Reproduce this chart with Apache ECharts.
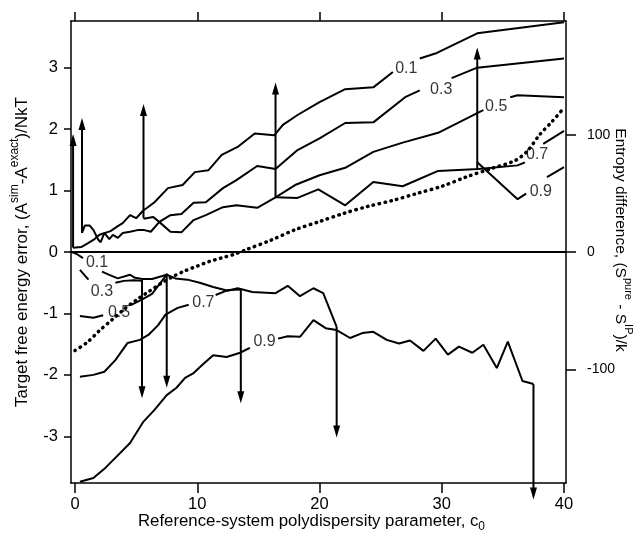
<!DOCTYPE html>
<html>
<head>
<meta charset="utf-8">
<script src="https://cdn.jsdelivr.net/npm/echarts@6/dist/echarts.min.js"></script>
<style>
  html, body { margin: 0; padding: 0; background: #fff; }
  #chart { width: 639px; height: 537px; }
</style>
</head>
<body>
<div id="chart"></div>
<script>
// free energy error curves, upper set (left axis); null = gap for the label
var upper01 = [[-0.16,0.07],[0.5,0.08],[1.1,0.15],[1.6,0.21],[2.0,0.28],[2.9,0.34],[3.5,0.42],[3.9,0.47],[4.5,0.6],[5.0,0.55],[5.6,0.68],[5.9,0.72],[6.5,0.81],[7.6,1.04],[8.8,1.09],[9.8,1.30],[10.9,1.33],[12.0,1.58],[13.3,1.71],[14.7,1.93],[16.3,1.90],[17.0,2.07],[18.2,2.23],[20.0,2.44],[22.1,2.65],[24.4,2.68],[26.0,2.93],null,[28.2,3.15],[29.6,3.24],[32.9,3.56],[40,3.74]];
var upper03 = [[0.57,0.31],[0.8,0.43],[1.2,0.43],[1.5,0.36],[1.9,0.2],[2.1,0.16],[2.4,0.31],[2.8,0.21],[3.1,0.28],[3.5,0.23],[3.9,0.31],[4.5,0.33],[5.2,0.36],[5.6,0.36],[6.2,0.33],[6.9,0.49],[7.8,0.6],[8.7,0.62],[9.7,0.8],[10.7,0.81],[12.1,1.04],[13.2,1.17],[14.9,1.40],[16.4,1.35],[18.2,1.66],[20.0,1.85],[22.1,2.10],[24.4,2.11],[27.0,2.52],[28.2,2.63],null,[30.8,2.83],[32.9,3.0],[40,3.15]];
var upper05 = [[5.6,0.54],[6.4,0.57],[7.0,0.47],[7.8,0.33],[8.7,0.32],[9.7,0.52],[10.7,0.6],[12.1,0.73],[13.2,0.76],[14.9,0.72],[16.4,0.89],[18.0,1.09],[20.0,1.25],[22.1,1.37],[24.4,1.63],[26.8,1.78],[29.7,1.94],[32.9,2.26],[33.4,2.31],null,[35.6,2.52],[36.2,2.55],[40,2.52]];
var upper07 = [[16.4,0.89],[18.2,0.88],[19.9,1.02],[22.1,0.76],[24.4,1.14],[26.8,1.07],[29.7,1.32],[33.0,1.35],[36.2,1.41],[36.8,1.46],null,[38.3,1.76],[40,1.97]];
var upper09 = [[32.9,1.46],[36.2,0.86],[36.9,0.95],null,[38.6,1.22],[40,1.38]];

// lower set (left axis)
var lower01 = [[-0.25,0.0],[0.2,-0.04],[0.65,-0.1],null,[2.2,-0.32],[2.9,-0.38],[3.5,-0.43],[4.5,-0.37],[4.9,-0.42],[5.5,-0.44],[6.3,-0.44],[7.5,-0.37],[8.2,-0.43],[9.2,-0.45],[10.2,-0.5],[11.3,-0.57],[12.5,-0.63],[13.3,-0.59],[14.5,-0.65],[16.4,-0.67],[17.4,-0.55],[18.4,-0.72],[19.5,-0.59],[20.3,-0.67],[21.4,-1.22]];
var lower03 = [[0.4,-0.29],[1.1,-0.45],null,[3.3,-0.5],[4.0,-0.47],[4.8,-0.46],[5.5,-0.47]];
var lower05 = [[0.4,-1.04],[1.5,-1.07],[2.3,-1.03],null,[4.6,-0.86],[5.5,-0.77],[6.3,-0.68],[7.5,-0.37]];
var lower07 = [[0.4,-2.03],[1.5,-2.0],[2.4,-1.95],[3.3,-1.76],[4.3,-1.48],[5.3,-1.43],[6.0,-1.35],[6.8,-1.19],[7.4,-1.02],[8.4,-0.91],[9.3,-0.86],null,[11.5,-0.7],[12.5,-0.62],[13.6,-0.61]];
var lower09 = [[0.4,-3.74],[1.5,-3.68],[2.5,-3.51],[3.4,-3.33],[4.5,-3.11],[5.6,-2.76],[6.5,-2.57],[7.5,-2.33],[8.3,-2.21],[9.0,-2.05],[9.7,-1.97],[10.4,-1.84],[11.3,-1.68],[12.4,-1.71],[13.5,-1.64],[14.3,-1.56],null,[16.6,-1.41],[17.4,-1.37],[18.4,-1.38],[19.5,-1.11],[20.5,-1.24],[21.4,-1.27],[22.5,-1.4],[23.5,-1.32],[24.4,-1.30],[25.5,-1.43],[26.5,-1.49],[27.4,-1.44],[28.5,-1.61],[29.5,-1.41],[30.5,-1.67],[31.4,-1.54],[32.5,-1.64],[33.4,-1.51],[34.5,-1.89],[35.4,-1.46],[36.6,-2.10],[37.5,-2.15]];

// entropy difference (right axis), dotted
var entropyX = [0,1,2,3,4,5,6,7,8,9,10,11,12,13,14,16,18,20,22,24,26,28,30,32,34,36,37,38,39,40];
var entropyY = [-84,-77,-67,-58,-49,-41,-34,-27,-21,-16,-12,-8,-5,-2,2,10,19,26,33,39,44,50,56,64,71,78,86,100,111,123];

// off-scale arrows: [x, from, to]
var arrows = [[-0.16,0.07,1.92],[0.57,0.31,2.18],[5.6,0.55,2.41],[16.4,0.89,2.76],[32.9,1.35,3.33],
              [5.48,-0.45,-2.38],[7.5,-0.35,-2.21],[13.56,-0.6,-2.46],[21.4,-1.22,-3.02],[37.5,-2.15,-4.03]];

// curve labels: [x, y, text]
var curveLabels = [[27.1,2.99,'0.1'],[29.95,2.65,'0.3'],[34.45,2.36,'0.5'],[37.8,1.58,'0.7'],[38.1,0.98,'0.9'],
                   [1.8,-0.18,'0.1'],[2.2,-0.65,'0.3'],[3.6,-0.99,'0.5'],[10.5,-0.83,'0.7'],[15.5,-1.46,'0.9']];

var xTicks = [0, 10, 20, 30, 40];
var yTicks = [-3, -2, -1, 0, 1, 2, 3];
var rTicks = [-100, 0, 100];

var FONT = '"Liberation Sans", Arial, Helvetica, sans-serif';
var chart = echarts.init(document.getElementById('chart'));

function gaps(arr) {
  return arr.map(function (p) { return p === null ? ['-', '-'] : p; });
}
function curve(data) {
  return {
    type: 'line', xAxisIndex: 0, yAxisIndex: 0, data: gaps(data),
    symbol: 'none', connectNulls: false, silent: true,
    lineStyle: { color: '#000', width: 2 }
  };
}

var axisLine = { show: true, onZero: false, lineStyle: { color: '#000', width: 1.5 } };
var tickStyle = { color: '#000', width: 1.5 };

var option = {
  animation: false,
  backgroundColor: '#fff',
  grid: { left: 71, right: 73, top: 21, bottom: 54, containLabel: false, outerBoundsMode: 'none' },
  xAxis: [
    {
      type: 'value', position: 'bottom', min: -0.33, max: 40.16,
      axisLine: axisLine,
      axisTick: { show: true, customValues: xTicks, length: 10, lineStyle: tickStyle },
      axisLabel: { customValues: xTicks, color: '#000', fontSize: 16.5, fontFamily: FONT, margin: 13 },
      splitLine: { show: false },
      name: '{t|Reference-system polydispersity parameter, c}{b|0}',
      nameLocation: 'middle', nameGap: 30, nameMoveOverlap: false,
      nameTextStyle: {
        padding: [0, 14, 0, 0],
        rich: {
          t: { fontSize: 16.8, fontFamily: FONT, color: '#000', lineHeight: 20, verticalAlign: 'top' },
          b: { fontSize: 12, fontFamily: FONT, color: '#000', lineHeight: 12, verticalAlign: 'bottom' }
        }
      }
    },
    {
      type: 'value', position: 'top', min: -0.33, max: 40.16,
      axisLine: axisLine,
      axisTick: { show: true, customValues: xTicks, length: 9, lineStyle: tickStyle },
      axisLabel: { show: false },
      splitLine: { show: false }
    }
  ],
  yAxis: [
    {
      type: 'value', position: 'left', min: -3.76, max: 3.76,
      axisLine: axisLine,
      axisTick: { show: true, customValues: yTicks, length: 7, lineStyle: tickStyle },
      axisLabel: { customValues: yTicks, color: '#000', fontSize: 16.5, fontFamily: FONT, margin: 13 },
      splitLine: { show: false },
      name: '{t|Target free energy error, (A}{s|sim}{t|-A}{s|exact}{t|)/NkT}',
      nameLocation: 'middle', nameGap: 40, nameMoveOverlap: false,
      nameTextStyle: {
        rich: {
          t: { fontSize: 17, fontFamily: FONT, color: '#000', lineHeight: 22, verticalAlign: 'bottom' },
          s: { fontSize: 12, fontFamily: FONT, color: '#000', lineHeight: 12, verticalAlign: 'top' }
        }
      }
    },
    {
      type: 'value', position: 'right', min: -197, max: 197,
      axisLine: axisLine,
      axisTick: { show: true, customValues: rTicks, length: 10, lineStyle: tickStyle },
      axisLabel: { customValues: rTicks, color: '#000', fontSize: 14, fontFamily: FONT, margin: 21 },
      splitLine: { show: false },
      name: '{t|Entropy difference, (S}{s|pure}{t| - S}{s|IP}{t|)/k}',
      nameLocation: 'middle', nameGap: 46, nameRotate: -90, nameMoveOverlap: false,
      nameTextStyle: {
        padding: [0, 24, 0, 0],
        rich: {
          t: { fontSize: 15.5, fontFamily: FONT, color: '#000', lineHeight: 22, verticalAlign: 'bottom' },
          s: { fontSize: 11, fontFamily: FONT, color: '#000', lineHeight: 12, verticalAlign: 'top' }
        }
      }
    }
  ],
  series: [
    curve(upper01), curve(upper03), curve(upper05), curve(upper07), curve(upper09),
    curve(lower01), curve(lower03), curve(lower05), curve(lower07), curve(lower09),
    {
      // zero line
      type: 'line', xAxisIndex: 0, yAxisIndex: 0, data: [], silent: true,
      markLine: {
        silent: true, symbol: ['none', 'none'], label: { show: false },
        lineStyle: { color: '#000', width: 2, type: 'solid' },
        data: [{ yAxis: 0 }]
      }
    },
    {
      type: 'line', xAxisIndex: 0, yAxisIndex: 1, symbol: 'none', silent: true,
      data: entropyX.map(function (x, i) { return [x, entropyY[i]]; }),
      smooth: 0.3,
      lineStyle: { color: '#000', width: 3.5, type: [0.5, 5.5], cap: 'round' }
    },
    {
      type: 'custom', xAxisIndex: 0, yAxisIndex: 0, silent: true, clip: false,
      data: arrows,
      encode: { x: 0, y: [1, 2] },
      renderItem: function (params, api) {
        var x = api.value(0);
        var p0 = api.coord([x, api.value(1)]);
        var p1 = api.coord([x, api.value(2)]);
        var dir = p1[1] > p0[1] ? 1 : -1;
        var headLen = 12, halfW = 3.5;
        return {
          type: 'group',
          children: [
            { type: 'line', shape: { x1: p0[0], y1: p0[1], x2: p1[0], y2: p1[1] - dir * headLen * 0.7 },
              style: { stroke: '#000', lineWidth: 2 } },
            { type: 'polygon', shape: { points: [[p1[0], p1[1]], [p1[0] - halfW, p1[1] - dir * headLen], [p1[0] + halfW, p1[1] - dir * headLen]] },
              style: { fill: '#000' } }
          ]
        };
      }
    },
    {
      type: 'scatter', xAxisIndex: 0, yAxisIndex: 0, silent: true,
      data: curveLabels,
      symbolSize: 1,
      itemStyle: { color: 'rgba(0,0,0,0)' },
      label: {
        show: true, position: 'inside', color: '#000', fontSize: 16, fontFamily: FONT,
        formatter: function (p) { return p.value[2]; }
      }
    }
  ]
};

chart.setOption(option);
</script>
</body>
</html>
